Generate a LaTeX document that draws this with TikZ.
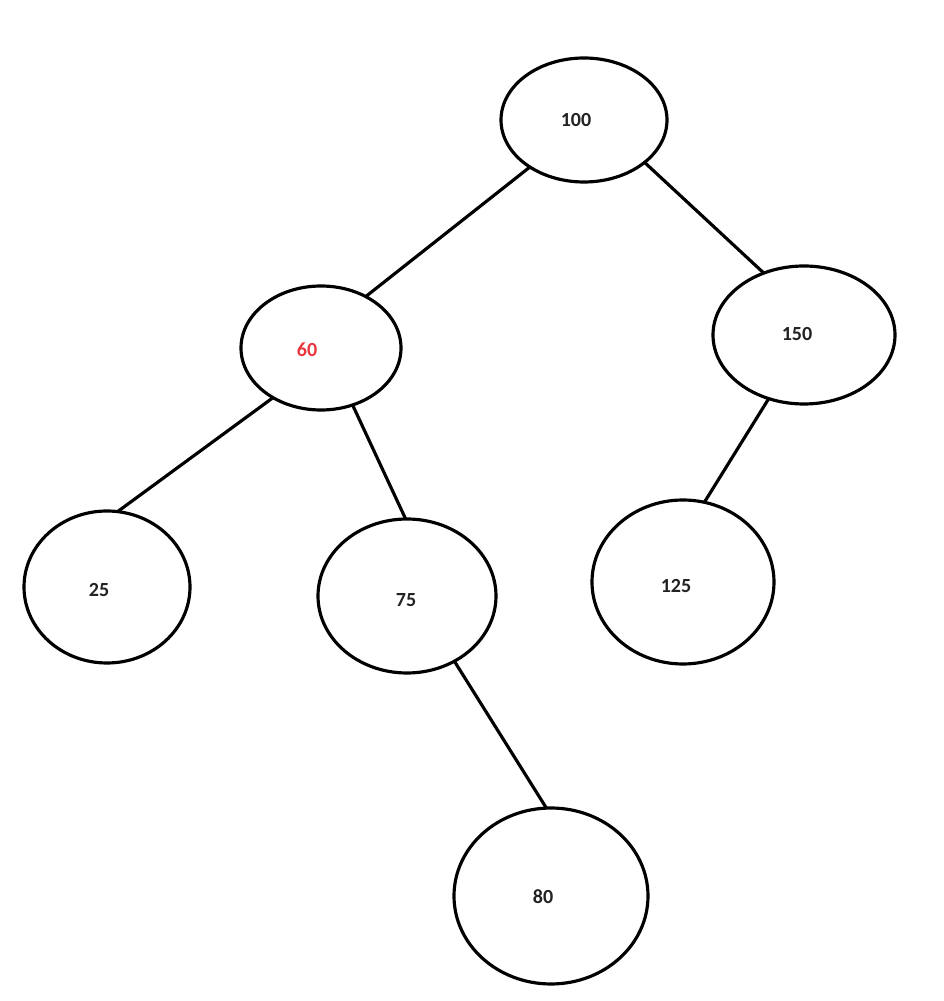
\documentclass[tikz,border=0pt]{standalone}
\usepackage{fontspec}
\setmainfont{Carlito}
\usepackage{tikz}
\usetikzlibrary{shapes.geometric}
\definecolor{numred}{HTML}{E8363F}
\definecolor{numgray}{HTML}{222222}

\begin{document}
\begin{tikzpicture}[
	oval/.style = {draw, ellipse, line width = 0.9pt, inner sep = 0pt, outer sep = 0pt},
	num/.style = {text = numgray, font = \fontsize{5.7}{7}\selectfont\bfseries},
	edge/.style = {line width = 0.9pt}
]
	\useasboundingbox (0,0) rectangle (9.43,10.01);
	% the circles
	\node [oval, minimum width = 1.66cm, minimum height = 1.24cm] (n100) at (5.84,8.81) {};
	\node [oval, minimum width = 1.60cm, minimum height = 1.24cm] (n60) at (3.21,6.53) {};
	\node [oval, minimum width = 1.82cm, minimum height = 1.38cm] (n150) at (8.04,6.66) {};
	\node [oval, minimum width = 1.66cm, minimum height = 1.52cm] (n25) at (1.07,4.14) {};
	\node [oval, minimum width = 1.78cm, minimum height = 1.54cm] (n75) at (4.07,4.05) {};
	\node [oval, minimum width = 1.82cm, minimum height = 1.64cm] (n125) at (6.83,4.19) {};
	\node [oval, minimum width = 1.94cm, minimum height = 1.76cm] (n80) at (5.51,1.05) {};
	% the keys
	\node [num] (t100) at (5.76,8.81) {100};
	\node [num, text = numred] (t60) at (3.07,6.51) {60};
	\node [num] (t150) at (7.97,6.67) {150};
	\node [num] (t25) at (0.99,4.11) {25};
	\node [num] (t75) at (4.06,4.01) {75};
	\node [num] (t125) at (6.76,4.15) {125};
	\node [num] (t80) at (5.43,1.04) {80};
	% the edges
	\draw [edge] (n100.-139) -- (n60.49);
	\draw [edge] (n100.-35) -- (n150.123);
	\draw [edge] (n60.-134) -- (n25.82);
	\draw [edge] (n60.-61) -- (n75.91);
	\draw [edge] (n150.-119) -- (n125.75);
	\draw [edge] (n75.-54) -- (n80.93);
\end{tikzpicture}
\end{document}
